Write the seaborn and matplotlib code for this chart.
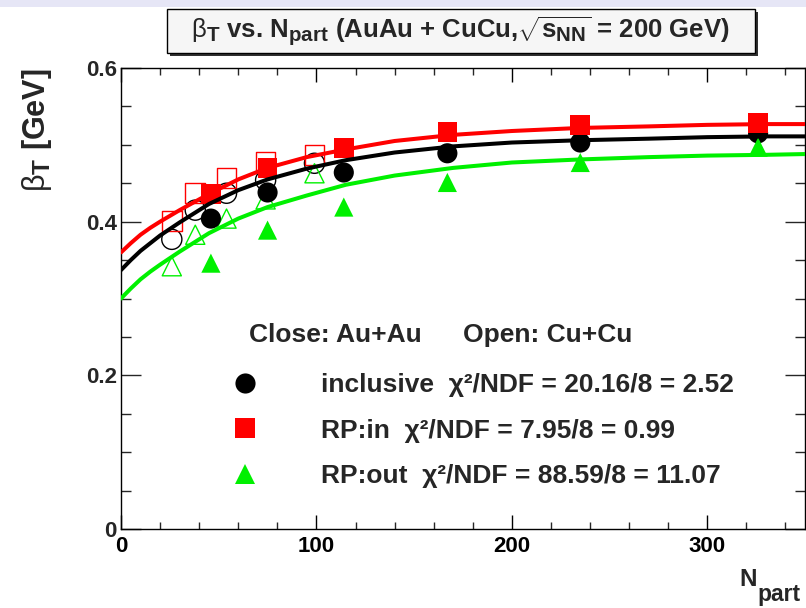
import numpy as np
import pandas as pd
import matplotlib
matplotlib.use("Agg")
import matplotlib.pyplot as plt
import matplotlib._mathtext as _mt
from matplotlib.patches import Rectangle
from matplotlib.lines import Line2D
import seaborn as sns

# ---------------- data ----------------
npart_auau = [46, 75, 114, 167, 235, 326]
incl_auau = [0.404, 0.438, 0.464, 0.489, 0.503, 0.515]
in_auau = [0.436, 0.470, 0.496, 0.517, 0.526, 0.528]
out_auau = [0.346, 0.389, 0.419, 0.451, 0.477, 0.497]

npart_cucu = [26, 38, 54, 74, 99]
incl_cucu = [0.377, 0.415, 0.437, 0.454, 0.476]
in_cucu = [0.401, 0.437, 0.457, 0.478, 0.487]
out_cucu = [0.342, 0.383, 0.404, 0.429, 0.463]

# fit curves
npart_fit = [0, 5, 10, 15, 20, 30, 45, 60, 75, 95, 115, 140, 170, 200, 235, 270, 300, 330, 350]
fit_incl = [0.337, 0.350, 0.362, 0.372, 0.382, 0.399, 0.423, 0.441, 0.455, 0.469, 0.480,
            0.490, 0.498, 0.503, 0.506, 0.508, 0.510, 0.511, 0.511]
fit_in = [0.360, 0.372, 0.383, 0.392, 0.400, 0.415, 0.436, 0.455, 0.470, 0.484, 0.494,
          0.505, 0.513, 0.518, 0.522, 0.524, 0.526, 0.527, 0.527]
fit_out = [0.300, 0.313, 0.325, 0.335, 0.344, 0.361, 0.385, 0.404, 0.419, 0.434, 0.448,
           0.460, 0.470, 0.477, 0.481, 0.484, 0.486, 0.487, 0.488]

series_names = ["inclusive", "RP:in", "RP:out"]
chi2_labels = ["inclusive  \u03c7\u00b2/NDF = 20.16/8 = 2.52",
               "RP:in  \u03c7\u00b2/NDF = 7.95/8 = 0.99",
               "RP:out  \u03c7\u00b2/NDF = 88.59/8 = 11.07"]
header_left = "Close: Au+Au"
header_right = "Open: Cu+Cu"
colors = {"inclusive": "#000000", "RP:in": "#ff0000", "RP:out": "#00f000"}
markers = {"inclusive": "o", "RP:in": "s", "RP:out": "^"}

# ---------------- style ----------------
sns.set_style("ticks")
plt.rcParams["font.family"] = ["Liberation Sans", "DejaVu Sans"]
plt.rcParams["mathtext.fontset"] = "custom"
plt.rcParams["mathtext.rm"] = "Liberation Sans:bold"
plt.rcParams["mathtext.bf"] = "Liberation Sans:bold"
plt.rcParams["mathtext.it"] = "Liberation Sans:bold"
plt.rcParams["mathtext.sf"] = "Liberation Sans"
_mt.SHRINK_FACTOR = 0.8  # ROOT-like larger subscripts

W, H = 806, 608
fig = plt.figure(figsize=(W / 100, H / 100), dpi=100)
fig.patch.set_facecolor("white")

x0, x1, y0, y1 = 121, 805, 68, 529
ax = fig.add_axes([x0 / W, 1 - y1 / H, (x1 - x0) / W, (y1 - y0) / H])

def px_ax(px, py):
    return (px - x0) / (x1 - x0), (y1 - py) / (y1 - y0)

auau = pd.DataFrame({"npart": npart_auau * 3,
                     "beta": incl_auau + in_auau + out_auau,
                     "series": sum([[s] * len(npart_auau) for s in series_names], [])})
cucu = pd.DataFrame({"npart": npart_cucu * 3,
                     "beta": incl_cucu + in_cucu + out_cucu,
                     "series": sum([[s] * len(npart_cucu) for s in series_names], [])})
fits = pd.DataFrame({"npart": npart_fit * 3,
                     "beta": fit_incl + fit_in + fit_out,
                     "series": sum([[s] * len(npart_fit) for s in series_names], [])})

msize = {"o": 210, "s": 200, "^": 190}
for s in series_names:
    d = cucu[cucu.series == s]
    sns.scatterplot(data=d, x="npart", y="beta", ax=ax, marker=markers[s],
                    s=msize[markers[s]], color=colors[s], facecolor="none",
                    edgecolor=colors[s], linewidth=1.0, zorder=3, legend=False)
for s in series_names:
    d = auau[auau.series == s]
    sns.scatterplot(data=d, x="npart", y="beta", ax=ax, marker=markers[s],
                    s=msize[markers[s]], color=colors[s], edgecolor="none",
                    linewidth=0, zorder=4, legend=False)
for s in ["RP:out", "inclusive", "RP:in"]:
    d = fits[fits.series == s]
    sns.lineplot(data=d, x="npart", y="beta", ax=ax, color=colors[s],
                 linewidth=2.9, zorder=5, legend=False, estimator=None, sort=True)

ax.set_xlim(0, 350)
ax.set_ylim(0, 0.6)
ax.set_xticks([0, 100, 200, 300])
ax.set_xticks(np.arange(0, 351, 20), minor=True)
ax.set_yticks([0, 0.2, 0.4, 0.6])
ax.set_yticks(np.arange(0, 0.61, 0.05), minor=True)
ax.set_xticklabels(["0", "100", "200", "300"])
ax.set_yticklabels(["0", "0.2", "0.4", "0.6"])
for lab in ax.get_xticklabels() + ax.get_yticklabels():
    lab.set_fontweight("bold")
    lab.set_fontsize(16)

for sp in ax.spines.values():
    sp.set_visible(True)
    sp.set_linewidth(1.0)
    sp.set_color("black")
ax.tick_params(axis="x", which="major", direction="in", length=10, width=1.0,
               top=True, bottom=True, pad=5, colors="black")
ax.tick_params(axis="x", which="minor", direction="in", length=5, width=1.0,
               top=True, bottom=True)
ax.tick_params(axis="y", which="major", direction="in", length=14.4, width=1.0,
               left=True, right=True, pad=3)
ax.tick_params(axis="y", which="minor", direction="in", length=7.2, width=1.0,
               left=True, right=True)

# axis titles (ROOT style placement)
ax.set_xlabel("")
ax.set_ylabel(r"$\mathsf{\beta}_{\mathbf{T}}$ [GeV]", fontsize=22, fontweight="bold")
ax.yaxis.set_label_coords(*px_ax(37, 130))
ax.yaxis.label.set_ha("center")
ax.yaxis.label.set_va("center")
fig.text(739 / W, 1 - 586 / H, "N", fontsize=17.5, fontweight="bold",
         ha="left", va="baseline")
fig.text(757 / W, 1 - 601 / H, "part", fontsize=16.5, fontweight="bold",
         ha="left", va="baseline")

# legend header and entries
fs_leg = 19
ax.text(*px_ax(249, 335), header_left, transform=ax.transAxes, fontsize=fs_leg,
        fontweight="bold", ha="left", va="center")
ax.text(*px_ax(463, 335), header_right, transform=ax.transAxes, fontsize=fs_leg,
        fontweight="bold", ha="left", va="center")
handles = [Line2D([], [], linestyle="none", marker=markers[s], color=colors[s],
                  markeredgewidth=0, markersize=14.5) for s in series_names]
leg = ax.legend(handles, chi2_labels, loc="upper left",
                bbox_to_anchor=(232 / W, 1 - 373 / H), bbox_transform=fig.transFigure,
                frameon=False, borderpad=0, borderaxespad=0, handlelength=1.0,
                handletextpad=2.38, labelspacing=0.82,
                prop={"size": fs_leg, "weight": "bold"})

# slide band at top
fig.patches.append(Rectangle((0, 1 - 7 / H), 1, 7 / H, transform=fig.transFigure,
                             facecolor="#e6e6f6", edgecolor="none", zorder=0))
# title box with shadow
bx0, bx1, by0, by1 = 167, 755, 9, 53
fig.patches.append(Rectangle((bx0 / W + 3 / W, 1 - (by1 + 3) / H), (bx1 - bx0) / W,
                             (by1 - by0) / H, transform=fig.transFigure,
                             facecolor="#303030", edgecolor="none", zorder=1))
fig.patches.append(Rectangle((bx0 / W, 1 - by1 / H), (bx1 - bx0) / W, (by1 - by0) / H,
                             transform=fig.transFigure, facecolor="#f6f6f6",
                             edgecolor="black", linewidth=1.0, zorder=2))
fig.text(460 / W, 1 - 31 / H,
         r"$\mathsf{\beta}_{\mathbf{T}}$ vs. N$_{\mathbf{part}}$ (AuAu + CuCu,$\sqrt{\mathbf{s}_{\mathbf{NN}}}$ = 200 GeV)",
         fontsize=18.5, fontweight="bold", ha="center", va="center", zorder=3)

fig.savefig("out.png", dpi=100)
